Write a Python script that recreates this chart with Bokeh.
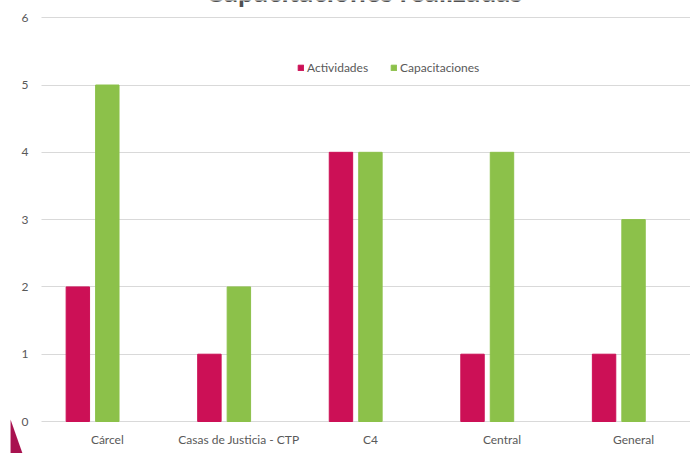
from bokeh.plotting import figure
from bokeh.models import Range1d, FixedTicker, ColumnDataSource, Legend, LinearAxis, Grid
from bokeh.core.properties import value
from bokeh.transform import dodge
from bokeh.embed import file_html
from bokeh.resources import INLINE

title_text = "Capacitaciones realizadas"
categories = ["Cárcel", "Casas de Justicia - CTP", "C4", "Central", "General"]
actividades = [2, 1, 4, 1, 1]
capacitaciones = [5, 2, 4, 4, 3]
y_ticks = [0, 1, 2, 3, 4, 5, 6]

RED = "#CC1056"
GREEN = "#8CC14A"
GRAY = "#595959"
FONT = "Lato"

xpos = [i + 0.5 for i in range(len(categories))]
src = ColumnDataSource(dict(x=xpos, act=actividades, cap=capacitaciones))

X0, X1 = -0.312, 4.933
Y0, Y1 = -0.4755, 6.256

p = figure(width=690, height=453, output_backend="svg", toolbar_location=None,
           x_range=Range1d(X0, X1), y_range=Range1d(Y0, Y1),
           x_axis_location=None, y_axis_location=None,
           min_border_left=0, min_border_right=0, min_border_top=0, min_border_bottom=0)
p.outline_line_color = None
p.background_fill_color = "white"

r1 = p.vbar(x=dodge("x", -0.224, range=p.x_range), top="act", width=0.178, bottom=0,
            source=src, fill_color=RED, line_color=RED)
r2 = p.vbar(x="x", top="cap", width=0.178, bottom=0,
            source=src, fill_color=GREEN, line_color=GREEN)

# axes placed inside the frame
xaxis = LinearAxis(fixed_location=0, ticker=FixedTicker(ticks=xpos),
                   major_label_overrides={x: c for x, c in zip(xpos, categories)},
                   major_label_standoff=10)
yaxis = LinearAxis(fixed_location=0, ticker=FixedTicker(ticks=y_ticks),
                   major_label_standoff=13)
for ax in (xaxis, yaxis):
    ax.axis_line_color = None
    ax.major_tick_line_color = None
    ax.minor_tick_line_color = None
    ax.major_tick_out = 0
    ax.major_label_text_color = GRAY
    ax.major_label_text_font = FONT
    ax.major_label_text_font_size = "12px"
p.add_layout(xaxis, "below")
p.add_layout(yaxis, "left")

p.xgrid.visible = False
p.ygrid.visible = False
g = Grid(dimension=1, ticker=FixedTicker(ticks=y_ticks), grid_line_color="#D9D9D9",
         grid_line_width=1, cross_bounds=(0, X1))
p.add_layout(g)

# legend
legend = Legend(items=[("Actividades", [r1]), ("Capacitaciones", [r2])],
                orientation="horizontal", location=(297, 378),
                glyph_width=7, glyph_height=7, label_height=8, label_standoff=3, spacing=22,
                padding=0, margin=0, border_line_color=None, background_fill_alpha=0,
                label_text_font=FONT, label_text_font_size="12px", label_text_color=GRAY)
p.add_layout(legend, "center")

# title (cut off at the top edge like the reference)
p.text(x=[2.45], y=[Y1], text=[title_text], text_align="center", text_baseline="alphabetic",
       y_offset=-10, text_font=value(FONT), text_font_style="bold", text_font_size="28px",
       text_color="#505050")

# decorative triangle bottom-left
p.patch(x=[-0.2357, -0.1445, -0.2357], y=[0.0297, Y0, Y0], fill_color="#A8124F", line_color=None)

open("out.html", "w").write(file_html(p, INLINE))
